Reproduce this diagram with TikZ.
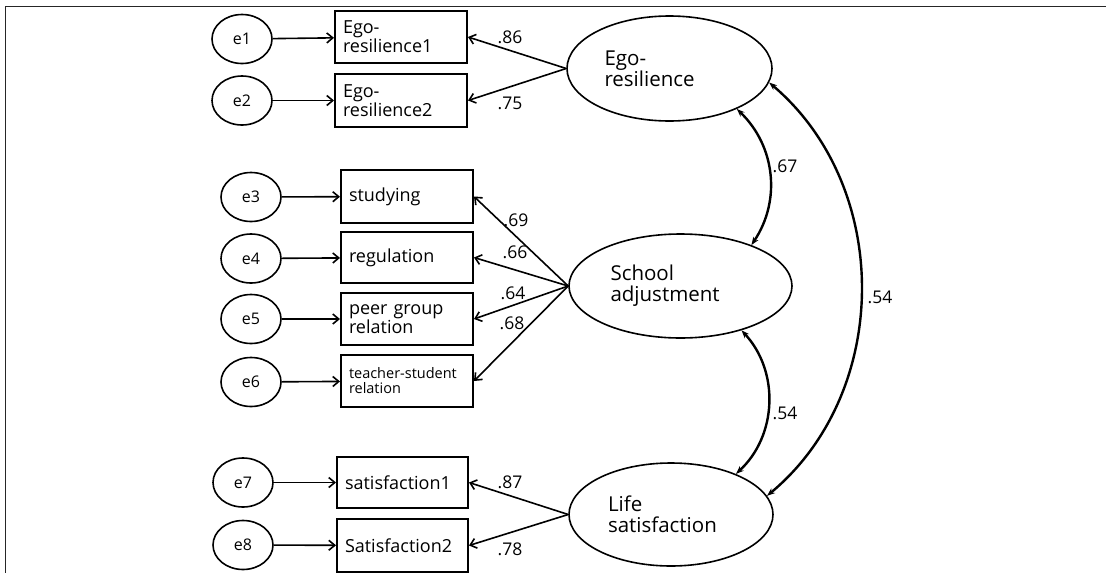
\documentclass[tikz,border=0pt]{standalone}
\usepackage{fontspec}
\setmainfont{Open Sans}
\usetikzlibrary{arrows.meta,shapes.geometric}

\begin{document}
\begin{tikzpicture}[x=1pt,y=-1pt,
  obs/.style={draw, line width=2pt, minimum width=132pt, minimum height=52pt,
    text width=116pt, inner xsep=8pt, inner ysep=0pt, align=left,
    font=\fontsize{18}{17.5}\selectfont},
  err/.style={draw, ellipse, line width=1.6pt, minimum width=60pt, minimum height=49pt,
    inner sep=0pt, font=\fontsize{16}{16}\selectfont},
  lat/.style={draw, ellipse, line width=1.6pt, minimum width=205pt, minimum height=105pt,
    inner sep=0pt, text width=130pt, align=left, font=\fontsize{20.5}{21}\selectfont},
  load/.style={-{Straight Barb[length=6pt,width=10pt,line width=1.6pt]}, line width=1.6pt},
  cov/.style={{Stealth[length=8pt,width=6pt]}-{Stealth[length=8pt,width=6pt]}, line width=2.4pt},
  coef/.style={inner sep=0pt, font=\fontsize{17.5}{17.5}\selectfont}]
  \useasboundingbox (0,0) rectangle (1106,573);

  % frame
  \draw[line width=1.6pt, black!85] (1106,6.5) -- (5.5,6.5) -- (5.5,573);

  % latent variables
  \node[lat] (ego) at (669.5,68.5) {Ego-\\resilience};
  \node[lat, minimum width=223pt, minimum height=104pt, text width=140pt] (school) at (680.5,286) {School\\adjustment};
  \node[lat, minimum width=204pt, minimum height=103pt, text width=126pt] (life) at (671,514.5) {Life\\satisfaction};

  % indicators
  \node[obs] (er1) at (401,37) {Ego-\\resilience1};
  \node[obs, minimum height=53pt] (er2) at (401,100.5) {Ego-\\resilience2};
  \node[obs, minimum height=53pt] (study) at (407,196.5) {studying};
  \node[obs, minimum height=51pt] (regul) at (407,257.5) {regulation};
  \node[obs] (peer) at (407,319) {peer group\\relation};
  \node[obs, font=\fontsize{14.5}{15}\selectfont] (teach) at (407,381) {teacher-student\\relation};
  \node[obs, minimum width=131pt, text width=115pt, minimum height=51pt] (sat1) at (402.5,482.5) {satisfaction1};
  \node[obs, minimum width=131pt, text width=115pt, minimum height=53pt] (sat2) at (402.5,545.5) {Satisfaction2};

  % errors
  \node[err] (e1) at (242,39) {e1};
  \node[err] (e2) at (242,100.5) {e2};
  \node[err] (e3) at (251,197) {e3};
  \node[err] (e4) at (251,258.5) {e4};
  \node[err] (e5) at (251,319) {e5};
  \node[err] (e6) at (251,382) {e6};
  \node[err] (e7) at (243,482.5) {e7};
  \node[err] (e8) at (243,545) {e8};

  \foreach \e/\o in {e1/er1,e2/er2,e3/study,e4/regul,e5/peer,e6/teach,e7/sat1,e8/sat2}
    \draw[load] (\e) -- (\o);

  % loadings
  \draw[load] (ego.west) -- (er1.east);
  \draw[load] (ego.west) -- (er2.east);
  \draw[load] (school.west) -- (study.east);
  \draw[load] (school.west) -- (regul.east);
  \draw[load] (school.west) -- (peer.east);
  \draw[load] (school.west) -- (teach.east);
  \draw[load] (life.west) -- (sat1.east);
  \draw[load] (life.west) -- (sat2.east);

  \node[coef] (c86) at (510,37) {.86};
  \node[coef] (c75) at (510,103) {.75};
  \node[coef] (c69) at (516,220) {.69};
  \node[coef] (c66) at (515,252) {.66};
  \node[coef] (c64) at (513,293) {.64};
  \node[coef] (c68) at (512,323) {.68};
  \node[coef] (c87) at (510,482) {.87};
  \node[coef] (c78) at (510,549) {.78};

  % correlations
  \draw[cov] (ego.-31) to[bend left=40] (school.30);
  \draw[cov] (school.-36) to[bend left=45] (life.32);
  \draw[cov] (ego.-8) to[bend left=50] (life.11);

  \node[coef] (c67) at (785,166) {.67};
  \node[coef] (c54a) at (785,413) {.54};
  \node[coef] (c54b) at (880,297) {.54};
\end{tikzpicture}
\end{document}
